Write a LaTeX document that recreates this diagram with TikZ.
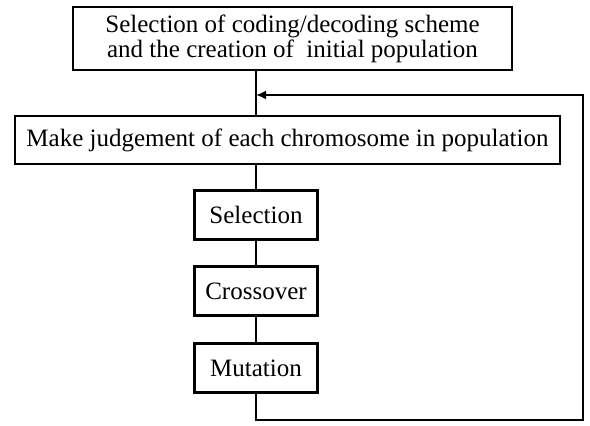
\documentclass[tikz,border=0pt]{standalone}
\usepackage{fontspec}
\setmainfont{Liberation Serif}
\usepackage{tikz}
\usetikzlibrary{arrows.meta, positioning}

\begin{document}
\begin{tikzpicture}[x=0.5pt, y=-0.5pt, line width=1pt,
        box/.style={draw, line width=1.2pt, inner sep=0pt, align=center, font=\fontsize{12.5}{11}\selectfont},
        opbox/.style={box, minimum width=61.5pt, minimum height=24.5pt}]
            \useasboundingbox (0,0) rectangle (590,426);
            \coordinate (entry) at (256,95);
            \coordinate (loop) at (583,420);
            
            \node[box, minimum width=219.5pt, minimum height=31.5pt] (init) at (292.5,38.5)
                {Selection of coding/decoding scheme\\and the creation of~ initial population};
            \node[box, minimum width=272.5pt, minimum height=24pt] (judge) at (287.5,140)
                {Make judgement of each chromosome in population};
            \node[opbox] (sel) at (256,215) {Selection};
            \node[opbox] (cross) at (256,291) {Crossover};
            \node[opbox] (mut) at (256,368) {Mutation};
            
            \draw (init.south -| sel) -- (judge.north -| sel);
            \draw (judge.south -| sel) -- (sel);
            \draw (sel) -- (cross);
            \draw (cross) -- (mut);
            \draw[-{Latex[length=5pt, width=4.5pt]}] (mut) |- (loop) |- (entry);
        \end{tikzpicture}
\end{document}
